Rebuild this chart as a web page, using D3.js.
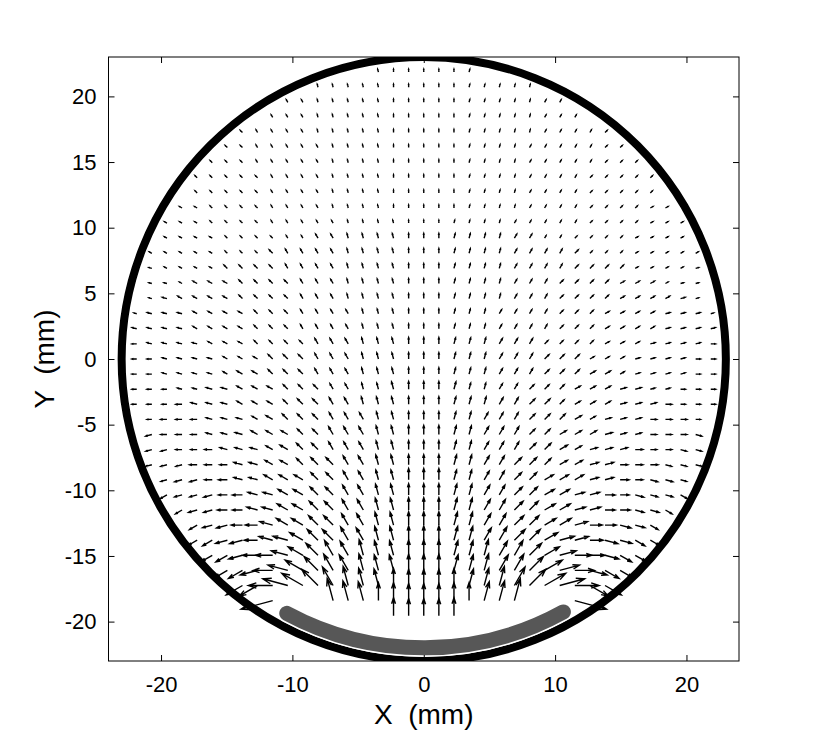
<!DOCTYPE html>
<html>
<head>
<meta charset="utf-8">
<script src="https://cdn.jsdelivr.net/npm/d3@7/dist/d3.min.js"></script>
<style>
  body { margin: 0; background: #fff; }
  text { font-family: "Liberation Sans", Arial, sans-serif; fill: #000; }
</style>
</head>
<body>
<svg id="chart" width="822" height="744"></svg>
<script>
// axis limits and ticks (mm)
var xDomain = [-24, 24]
var yDomain = [-23, 23]
var xTicks = [-20, -10, 0, 10, 20]
var yTicks = [-20, -15, -10, -5, 0, 5, 10, 15, 20]

// quiver grid, same positions on both axes (mm)
var gridMM = [-23, -21.85, -20.7, -19.55, -18.4, -17.25, -16.1, -14.95, -13.8, -12.65,
              -11.5, -10.35, -9.2, -8.05, -6.9, -5.75, -4.6, -3.45, -2.3, -1.15, 0,
              1.15, 2.3, 3.45, 4.6, 5.75, 6.9, 8.05, 9.2, 10.35, 11.5,
              12.65, 13.8, 14.95, 16.1, 17.25, 18.4, 19.55, 20.7, 21.85, 23]

// tank wall and electrode: radius, start angle, end angle (deg)
var wallRadius = 23
var electrodeArc = [22.0, -118.3, -61.1]

// field arrows, one row per grid y (bottom row first).
// each cell: direction letter (a = 0deg, +15deg per letter) + magnitude code (base 36), ".." = no arrow
var dirLetters = "abcdefghijklmnopqrstuvwx"
var fieldStart = [0, 0, 0, 18, 10, 8, 7, 6, 5, 5, 4, 3, 3, 2, 2, 2, 2, 1, 1, 1, 1,
                  1, 1, 1, 2, 2, 2, 2, 3, 3, 4, 5, 5, 6, 7, 8, 10, 11, 13, 17, 0]
var fieldRows = [
  "",
  "",
  "",
  "gE gD gD gD gE",
  "nY .. .. .. hK hH hG gE gE gD gD gD gE gE fG fH fK .. .. .. xY",
  "oF oI mM lO kM jK iI hG hE hD gD gC gC gC gD fD fE fG eI dK cM bO aM wI wF",
  "oA oC nE mG lH kH jG iF iE hD hC hC gC gC gC fC fC fD eE eF dG cH bH aG xE wC wA",
  "o8 o9 nA mB mD lD kD jD iD iC hC hB hB gB gB gB fB fB fC eC eD dD cD bD aD aB xA w9 w8",
  "o6 o7 n8 n9 m9 lA lB kB jB jB iB iA hA hA gA gA gA fA fA eA eB dB dB cB bB bA a9 x9 x8 w7 w6",
  "o5 n6 n7 m7 m8 l9 k9 k9 j9 j9 i9 i9 h9 h9 g9 g9 g9 f9 f9 e9 e9 d9 d9 c9 c9 b9 a8 a7 x7 x6 w5",
  "o4 n5 n5 m6 m6 l7 l7 k8 k8 j8 j8 i8 i8 h8 h8 g8 g8 g8 f8 f8 e8 e8 d8 d8 c8 c8 b7 b7 a6 a6 x5 x5 w4",
  "o4 n4 n4 n5 m5 m6 l6 l6 k7 k7 j7 j7 i7 i7 h7 h7 g7 g7 g7 f7 f7 e7 e7 d7 d7 c7 c7 b6 b6 a6 a5 x5 x4 x4 w4",
  "n3 n4 n4 m4 m5 l5 l5 k6 k6 k6 j6 j6 i6 i6 h6 h6 g7 g7 g7 f6 f6 e6 e6 d6 d6 c6 c6 c6 b5 b5 a5 a4 x4 x4 x3",
  "n3 n3 n3 m4 m4 m4 l5 l5 k5 k5 j5 j6 j6 i6 i6 h6 h6 g6 g6 g6 f6 f6 e6 e6 d6 d6 d5 c5 c5 b5 b5 a4 a4 a4 x3 x3 x3",
  "n3 n3 m3 m3 m4 l4 l4 l4 k4 k5 j5 j5 i5 i5 i5 h5 h5 g5 g5 g5 f5 f5 e5 e5 e5 d5 d5 c5 c4 b4 b4 b4 a4 a3 a3 x3 x3",
  "n3 m3 m3 m3 l3 l3 l4 k4 k4 k4 j4 j4 i5 i5 i5 h5 h5 g5 g5 g5 f5 f5 e5 e5 e5 d4 d4 c4 c4 c4 b4 b3 b3 a3 a3 a3 x3",
  "m2 m3 m3 m3 l3 l3 l3 k3 k4 j4 j4 j4 i4 i4 i4 h4 h4 g4 g4 g4 f4 f4 e4 e4 e4 d4 d4 d4 c4 c3 b3 b3 b3 a3 a3 a3 a2",
  "m2 m2 m2 m3 l3 l3 l3 k3 k3 k3 j3 j4 j4 i4 i4 h4 h4 h4 g4 g4 g4 f4 f4 f4 e4 e4 d4 d4 d3 c3 c3 c3 b3 b3 b3 a3 a2 a2 a2",
  "m2 m2 m2 l2 l2 l3 l3 k3 k3 k3 j3 j3 j3 i3 i3 h3 h3 h4 g4 g4 g4 f4 f3 f3 e3 e3 d3 d3 d3 c3 c3 c3 b3 b3 b2 b2 a2 a2 a2",
  "m2 m2 l2 l2 l2 l2 k2 k3 k3 j3 j3 j3 i3 i3 i3 h3 h3 h3 g3 g3 g3 f3 f3 f3 e3 e3 e3 d3 d3 d3 c3 c3 c2 b2 b2 b2 b2 a2 a2",
  "m2 m2 l2 l2 l2 l2 k2 k2 k2 j3 j3 j3 i3 i3 i3 h3 h3 h3 g3 g3 g3 f3 f3 f3 e3 e3 e3 d3 d3 d3 c2 c2 c2 b2 b2 b2 b2 a2 a2",
  "m2 l2 l2 l2 l2 k2 k2 k2 j2 j2 j2 j2 i3 i3 i3 h3 h3 h3 g3 g3 g3 f3 f3 f3 e3 e3 e3 d2 d2 d2 d2 c2 c2 c2 b2 b2 b2 b2 a2",
  "l2 l2 l2 l2 k2 k2 k2 k2 j2 j2 j2 i2 i2 i2 i2 h2 h2 h2 g2 g2 g2 f2 f2 f2 e2 e2 e2 e2 d2 d2 d2 c2 c2 c2 c2 b2 b2 b2 b2",
  "l1 l2 l2 l2 k2 k2 k2 k2 j2 j2 j2 i2 i2 i2 i2 h2 h2 h2 g2 g2 g2 f2 f2 f2 e2 e2 e2 e2 d2 d2 d2 c2 c2 c2 c2 b2 b2 b2 b1",
  "l1 l2 k2 k2 k2 k2 j2 j2 j2 j2 i2 i2 i2 h2 h2 h2 h2 g2 g2 g2 f2 f2 f2 f2 e2 e2 e2 d2 d2 d2 d2 c2 c2 c2 c2 b2 b1",
  "l1 l1 k1 k2 k2 k2 j2 j2 j2 j2 i2 i2 i2 h2 h2 h2 h2 g2 g2 g2 f2 f2 f2 f2 e2 e2 e2 d2 d2 d2 d2 c2 c2 c2 c1 b1 b1",
  "l1 k1 k1 k1 k1 j2 j2 j2 j2 i2 i2 i2 i2 h2 h2 h2 h2 g2 g2 g2 f2 f2 f2 f2 e2 e2 e2 e2 d2 d2 d2 d2 c1 c1 c1 c1 b1",
  "k1 k1 k1 k1 k1 j1 j1 j1 j2 i2 i2 i2 i2 h2 h2 h2 h2 g2 g2 g2 f2 f2 f2 f2 e2 e2 e2 e2 d2 d1 d1 d1 c1 c1 c1 c1 c1",
  "k1 k1 k1 k1 j1 j1 j1 j1 i1 i1 i2 i2 h2 h2 h2 h2 g2 g2 g2 f2 f2 f2 f2 e2 e2 e1 e1 d1 d1 d1 d1 c1 c1 c1 c1",
  "k1 k1 k1 j1 j1 j1 j1 i1 i1 i1 i1 i1 h1 h1 h1 h1 g1 g1 g1 f1 f1 f1 f1 e1 e1 e1 e1 e1 d1 d1 d1 d1 c1 c1 c1",
  "k1 k1 j1 j1 j1 j1 i1 i1 i1 i1 h1 h1 h1 h1 g1 g1 g1 g1 g1 f1 f1 f1 f1 e1 e1 e1 e1 d1 d1 d1 d1 c1 c1",
  "j1 j1 j1 j1 j1 i1 i1 i1 i1 h1 h1 h1 h1 g1 g1 g1 g1 g1 f1 f1 f1 f1 e1 e1 e1 e1 d1 d1 d1 d1 d1",
  "j1 j1 j1 j1 j1 i1 i1 i1 i1 h1 h1 h1 h1 g1 g1 g1 g1 g1 f1 f1 f1 f1 e1 e1 e1 e1 d1 d1 d1 d1 d1",
  "j1 j1 j1 i1 i1 i1 i1 i1 h1 h1 h1 h1 g1 g1 g1 g1 g1 f1 f1 f1 f1 e1 e1 e1 e1 e1 d1 d1 d1",
  "j1 j1 i1 i1 i1 i1 i1 h1 h1 h1 h1 g1 g1 g1 g1 g1 f1 f1 f1 f1 e1 e1 e1 e1 e1 d1 d1",
  "j1 i1 i1 i1 i1 h1 h1 h1 h1 h1 g1 g1 g1 g1 g1 f1 f1 f1 f1 f1 e1 e1 e1 e1 d1",
  "i1 i1 i1 h1 h1 h1 h1 h1 g1 g1 g1 g1 g1 f1 f1 f1 f1 f1 e1 e1 e1",
  "i1 i1 h1 h1 h1 h1 h1 g1 g1 g1 g1 g1 f1 f1 f1 f1 f1 e1 e1",
  "h1 h1 h1 h1 h1 g1 g1 g1 g1 g1 f1 f1 f1 f1 f1",
  "h1 g1 g1 g1 g1 g1 f1",
  ""
]

var svg = d3.select("#chart"),
    margin = {top: 57, right: 83, bottom: 83, left: 108.5},
    width  = +svg.attr("width")  - margin.left - margin.right,
    height = +svg.attr("height") - margin.top  - margin.bottom;

var x = d3.scaleLinear().domain(xDomain).range([0, width]);
var y = d3.scaleLinear().domain(yDomain).range([height, 0]);

// arrow length in mm from the magnitude code (compressed like the original plot)
var lenScale = d3.scalePow().exponent(0.68).domain([0, 13]).range([0, 1.3]);

svg.append("rect").attr("width", 822).attr("height", 744).attr("fill", "#fff");

svg.append("defs").append("clipPath")
    .attr("id", "clip")
  .append("rect")
    .attr("width", width)
    .attr("height", height);

var focus = svg.append("g")
    .attr("transform", "translate(" + margin.left + "," + margin.top + ")");

// unpack the arrow rows
var arrows = []
fieldRows.forEach(function(row, j) {
  if (!row) return;
  var cells = row.split(" ");
  if (cells.length != gridMM.length - 2 * fieldStart[j]) console.warn("row " + j + " has " + cells.length + " cells");
  cells.forEach(function(c, k) {
    if (c == "..") return;
    arrows.push({
      gx: gridMM[fieldStart[j] + k],
      gy: gridMM[j],
      ang: dirLetters.indexOf(c[0]) * 15 * Math.PI / 180,
      len: lenScale(parseInt(c[1], 36))
    });
  });
});

function arrowPath(d) {
  var x0 = x(d.gx), y0 = y(d.gy),
      x1 = x(d.gx + d.len * Math.cos(d.ang)),
      y1 = y(d.gy + d.len * Math.sin(d.ang)),
      u = x1 - x0, v = y1 - y0,
      a = 0.33, b = 0.33;
  return "M" + x0 + "," + y0 + "L" + x1 + "," + y1 +
         "M" + (x1 - a * (u + b * v)) + "," + (y1 - a * (v - b * u)) +
         "L" + x1 + "," + y1 +
         "L" + (x1 - a * (u - b * v)) + "," + (y1 - a * (v + b * u));
}

focus.append("g")
    .attr("class", "quiver")
  .selectAll("path")
  .data(arrows)
  .join("path")
    .attr("d", arrowPath)
    .attr("fill", "none")
    .attr("stroke", "#000")
    .attr("stroke-width", 1.4);

var plotArea = focus.append("g").attr("clip-path", "url(#clip)");

// tank wall
plotArea.append("ellipse")
    .attr("cx", x(0))
    .attr("cy", y(0))
    .attr("rx", x(wallRadius) - x(0))
    .attr("ry", y(0) - y(wallRadius))
    .attr("fill", "none")
    .attr("stroke", "#000")
    .attr("stroke-width", 8);

// electrode
function electrodePath() {
  var r = electrodeArc[0],
      a0 = electrodeArc[1] * Math.PI / 180,
      a1 = electrodeArc[2] * Math.PI / 180,
      rx = x(r) - x(0), ry = y(0) - y(r);
  return "M" + x(r * Math.cos(a0)) + "," + y(r * Math.sin(a0)) +
         "A" + rx + "," + ry + " 0 0 0 " + x(r * Math.cos(a1)) + "," + y(r * Math.sin(a1));
}

plotArea.append("path")
    .attr("d", electrodePath())
    .attr("fill", "none")
    .attr("stroke", "#fff")
    .attr("stroke-width", 18)
    .attr("stroke-linecap", "round");

plotArea.append("path")
    .attr("d", electrodePath())
    .attr("fill", "none")
    .attr("stroke", "#575757")
    .attr("stroke-width", 15)
    .attr("stroke-linecap", "round");

// axes box with inward ticks on all sides
var plain = function(d) { return String(d); };
var xAxis = d3.axisBottom(x).tickValues(xTicks).tickFormat(plain).tickSize(-6).tickSizeOuter(0).tickPadding(15),
    yAxis = d3.axisLeft(y).tickValues(yTicks).tickFormat(plain).tickSize(-6).tickSizeOuter(0).tickPadding(12);

focus.append("g")
    .attr("class", "axis axis--x")
    .attr("transform", "translate(0," + height + ")")
    .call(xAxis);

focus.append("g")
    .attr("class", "axis axis--y")
    .call(yAxis);

focus.append("g")
    .call(d3.axisTop(x).tickValues(xTicks).tickSize(-6).tickSizeOuter(0).tickFormat(""));

focus.append("g")
    .attr("transform", "translate(" + width + ",0)")
    .call(d3.axisRight(y).tickValues(yTicks).tickSize(-6).tickSizeOuter(0).tickFormat(""));

focus.selectAll(".domain").remove();
focus.selectAll(".tick line").attr("stroke", "#000");
focus.selectAll(".axis text")
    .attr("font-size", 22)
    .attr("font-family", "Liberation Sans, Arial, sans-serif");

focus.append("rect")
    .attr("width", width)
    .attr("height", height)
    .attr("fill", "none")
    .attr("stroke", "#000")
    .attr("stroke-width", 1);

svg.append("text")
    .attr("x", margin.left + x(0))
    .attr("y", 714)
    .attr("text-anchor", "middle")
    .attr("dominant-baseline", "central")
    .attr("font-size", 28)
    .style("white-space", "pre")
    .text("X  (mm)");

svg.append("text")
    .attr("transform", "translate(44," + (margin.top + y(0)) + ") rotate(-90)")
    .attr("text-anchor", "middle")
    .attr("dominant-baseline", "central")
    .attr("font-size", 28)
    .style("white-space", "pre")
    .text("Y  (mm)");
</script>
</body>
</html>
